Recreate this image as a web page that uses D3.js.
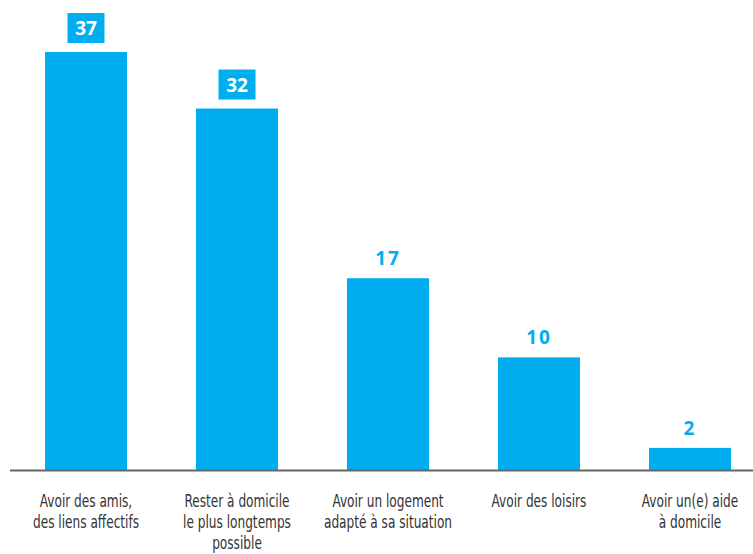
<!DOCTYPE html>
<html><head><meta charset="utf-8">
<script src="https://cdn.jsdelivr.net/npm/d3@7"></script>
<style>body{margin:0;background:#fff}svg{display:block}</style>
</head><body>
<script>
const categories = [
  ["Avoir des amis,", "des liens affectifs"],
  ["Rester à domicile", "le plus longtemps", "possible"],
  ["Avoir un logement", "adapté à sa situation"],
  ["Avoir des loisirs"],
  ["Avoir un(e) aide", "à domicile"]
];
const values = [37, 32, 17, 10, 2];
const boxed = [true, true, false, false, false];

const W = 753, H = 554;
const blue = "#00AEEF";
const svg = d3.select("body").append("svg").attr("width", W).attr("height", H);

const x = d3.scaleBand().domain(d3.range(values.length)).range([10.5, 765.5]).paddingInner(0.457).paddingOuter(0.2285);
const y = d3.scaleLinear().domain([0, 37]).range([470.5, 52]);

svg.selectAll("rect.bar").data(values).join("rect").attr("class", "bar")
  .attr("x", (d, i) => x(i)).attr("width", x.bandwidth())
  .attr("y", d => y(d)).attr("height", d => y(0) - y(d)).attr("fill", blue);

svg.append("line").attr("x1", 10).attr("x2", W).attr("y1", y(0)).attr("y2", y(0))
  .attr("stroke", "#666").attr("stroke-width", 2);

const font = "'DejaVu Sans Condensed','DejaVu Sans',sans-serif";

values.forEach((v, i) => {
  const cx = x(i) + x.bandwidth() / 2;
  if (boxed[i]) {
    svg.append("rect").attr("x", cx - 18.5).attr("y", y(v) - 39).attr("width", 37).attr("height", 30).attr("fill", blue);
    svg.append("text").attr("x", cx).attr("y", y(v) - 17).attr("text-anchor", "middle")
      .attr("font-family", "'Open Sans','DejaVu Sans',sans-serif").attr("font-weight", "bold").attr("font-size", 19)
      .attr("fill", "#fff").text(v);
  } else {
    svg.append("text").attr("x", cx).attr("y", y(v) - 13).attr("text-anchor", "middle")
      .attr("font-family", "'Open Sans','DejaVu Sans',sans-serif").attr("font-weight", "bold").attr("font-size", 19)
      .attr("letter-spacing", 2).attr("fill", blue).text(v);
  }
  const t = svg.append("text").attr("text-anchor", "middle").attr("font-family", font)
    .attr("font-size", 18).attr("fill", "#333")
    .attr("transform", `translate(${cx},0) scale(0.75,1)`);
  categories[i].forEach((line, j) => {
    t.append("tspan").attr("x", 0).attr("y", 507 + j * 21).text(line);
  });
});
</script>
</body></html>
